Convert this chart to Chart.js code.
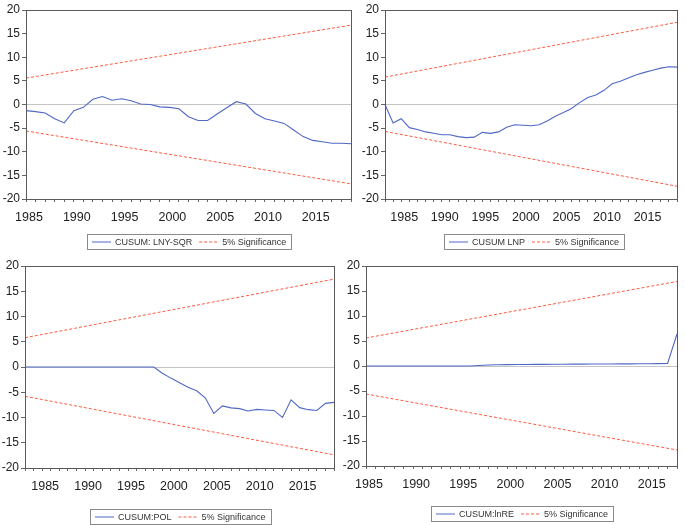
<!DOCTYPE html>
<html>
<head>
<meta charset="utf-8">
<script src="https://cdn.jsdelivr.net/npm/chart.js@4.4.0/dist/chart.umd.min.js"></script>
<style>
  html, body { margin: 0; padding: 0; background: #fff; }
  #wrap { position: relative; width: 685px; height: 525px; overflow: hidden; }
  #wrap canvas { position: absolute; left: 0; top: 0; }
</style>
</head>
<body>
<div id="wrap">
  <canvas id="c1" width="685" height="525"></canvas>
  <canvas id="c2" width="685" height="525"></canvas>
  <canvas id="c3" width="685" height="525"></canvas>
  <canvas id="c4" width="685" height="525"></canvas>
</div>
<script>
// years on the x axis
const years83to19 = [1983, 1984, 1985, 1986, 1987, 1988, 1989, 1990, 1991, 1992,
  1993, 1994, 1995, 1996, 1997, 1998, 1999, 2000, 2001, 2002, 2003, 2004, 2005,
  2006, 2007, 2008, 2009, 2010, 2011, 2012, 2013, 2014, 2015, 2016, 2017, 2018, 2019];
const years85to19 = years83to19.slice(2);
const years85to18 = years85to19.slice(0, -1);

// CUSUM series
const cusumLnySqr = [-1.3, -1.5, -1.8, -3.0, -3.9, -1.3, -0.6, 1.1, 1.7, 0.9,
  1.2, 0.8, 0.1, 0.0, -0.5, -0.6, -0.9, -2.6, -3.4, -3.4, -2.0, -0.7, 0.6, 0.1,
  -1.9, -3.0, -3.5, -4.0, -5.4, -6.8, -7.6, -7.9, -8.2, -8.2, -8.3];
const cusumLnp = [0.0, -3.9, -3.0, -4.9, -5.3, -5.8, -6.1, -6.4, -6.4, -6.8,
  -7.0, -6.9, -5.9, -6.1, -5.8, -4.8, -4.3, -4.4, -4.5, -4.3, -3.5, -2.5, -1.7,
  -0.85, 0.4, 1.5, 2.0, 3.0, 4.4, 4.9, 5.6, 6.3, 6.8, 7.25, 7.7, 8.0, 7.9];
const cusumPol = [0, 0, 0, 0, 0, 0, 0, 0, 0, 0, 0, 0, 0, 0, 0, 0,
  -1.25, -2.2, -3.1, -4.0, -4.7, -6.1, -9.2, -7.7, -8.1, -8.25, -8.7, -8.4, -8.5,
  -8.6, -10.0, -6.5, -8.05, -8.45, -8.6, -7.2, -7.0];
const cusumLnRe = [0, 0, 0, 0, 0, 0, 0, 0, 0, 0, 0, 0, 0.1, 0.2, 0.25, 0.28,
  0.3, 0.3, 0.32, 0.33, 0.35, 0.36, 0.37, 0.38, 0.39, 0.4, 0.41, 0.42, 0.43,
  0.44, 0.45, 0.47, 0.5, 6.4];

// 5% significance bounds at first and last year
const lnySqrUpper = [5.6, 16.8];
const lnySqrLower = [-5.6, -16.8];
const lnpUpper = [5.8, 17.4];
const lnpLower = [-5.7, -17.3];
const polUpper = [5.8, 17.4];
const polLower = [-5.8, -17.4];
const lnReUpper = [5.6, 16.9];
const lnReLower = [-5.6, -16.8];

const yTicks = [-20, -15, -10, -5, 0, 5, 10, 15, 20];

const BLUE = '#5068c6';
const RED = '#ff5a3c';
const FONT = '"Liberation Sans", Arial, sans-serif';

// frame round the plot and a boxed legend under it
const cusumFrame = {
  id: 'cusumFrame',
  afterDraw(chart, args, opts) {
    const { ctx, chartArea: a } = chart;
    ctx.save();
    ctx.strokeStyle = '#5a5a5a';
    ctx.lineWidth = 1;
    ctx.setLineDash([]);
    ctx.strokeRect(Math.round(a.left) + 0.5, Math.round(a.top) + 0.5,
      Math.round(a.right - a.left), Math.round(a.bottom - a.top));

    // legend items, one per label
    const seen = {};
    const items = [];
    chart.data.datasets.forEach(ds => {
      if (seen[ds.label]) return;
      seen[ds.label] = true;
      items.push(ds);
    });
    ctx.font = '9px ' + FONT;
    const sample = 19, gap = 4, itemGap = 7, pad = 5;
    let total = pad * 2 + itemGap * (items.length - 1);
    items.forEach(it => { total += sample + gap + ctx.measureText(it.label).width; });
    const [cx, cy] = opts.center;
    const h = 15;
    const x0 = Math.round(cx - total / 2);
    const y0 = Math.round(cy - h / 2);
    ctx.strokeStyle = '#8a8a8a';
    ctx.strokeRect(x0 + 0.5, y0 + 0.5, Math.round(total), h);
    let x = x0 + pad;
    ctx.textBaseline = 'middle';
    items.forEach(it => {
      ctx.strokeStyle = it.borderColor;
      ctx.lineWidth = 1;
      ctx.setLineDash(it.borderDash || []);
      ctx.beginPath();
      ctx.moveTo(x, y0 + h / 2 + 0.5);
      ctx.lineTo(x + sample, y0 + h / 2 + 0.5);
      ctx.stroke();
      ctx.setLineDash([]);
      x += sample + gap;
      ctx.fillStyle = '#333';
      ctx.fillText(it.label, x, y0 + h / 2 + 1);
      x += ctx.measureText(it.label).width + itemGap;
    });
    ctx.restore();
  }
};

function pairs(xs, ys) {
  return xs.map((x, i) => ({ x: x, y: ys[i] }));
}

function makePanel(id, label, years, values, upper, lower, area, legendCenter) {
  const W = 685, H = 525, YW = 27, XH = 30;
  const ends = [years[0], years[years.length - 1]];
  new Chart(document.getElementById(id), {
    type: 'line',
    data: {
      datasets: [
        {
          label: label,
          data: pairs(years, values),
          borderColor: BLUE,
          borderWidth: 1.1,
          pointRadius: 0,
          tension: 0
        },
        {
          label: '5% Significance',
          data: pairs(ends, upper),
          borderColor: RED,
          borderWidth: 1,
          borderDash: [3, 2],
          pointRadius: 0
        },
        {
          label: '5% Significance',
          data: pairs(ends, lower),
          borderColor: RED,
          borderWidth: 1,
          borderDash: [3, 2],
          pointRadius: 0
        }
      ]
    },
    options: {
      responsive: false,
      animation: false,
      clip: false,
      layout: {
        padding: {
          left: area.l - YW,
          top: area.t,
          right: W - area.r,
          bottom: H - area.b - XH
        }
      },
      plugins: {
        legend: { display: false },
        tooltip: { enabled: false },
        cusumFrame: { center: legendCenter }
      },
      scales: {
        x: {
          type: 'linear',
          min: ends[0],
          max: ends[1],
          afterFit: s => { s.height = XH; },
          border: { display: false },
          grid: { drawOnChartArea: false, tickLength: 3, tickColor: '#666' },
          ticks: {
            stepSize: 1,
            autoSkip: false,
            maxRotation: 0,
            padding: 8,
            labelOffset: 3,
            color: '#222',
            font: { family: FONT, size: 12.5 },
            callback: v => (v % 5 === 0 ? String(v) : '')
          }
        },
        y: {
          min: yTicks[0],
          max: yTicks[yTicks.length - 1],
          afterFit: s => { s.width = YW; },
          afterBuildTicks: s => { s.ticks = yTicks.map(v => ({ value: v })); },
          border: { display: false },
          grid: {
            color: c => (c.tick && c.tick.value === 0 ? '#c4c4c4' : 'rgba(0,0,0,0)'),
            tickColor: '#666',
            tickLength: 4
          },
          ticks: {
            padding: 2,
            color: '#222',
            font: { family: FONT, size: 12 }
          }
        }
      }
    },
    plugins: [cusumFrame]
  });
}

makePanel('c1', 'CUSUM: LNY-SQR', years85to19, cusumLnySqr, lnySqrUpper, lnySqrLower,
  { l: 26, t: 10, r: 351, b: 199 }, [189, 241.5]);
makePanel('c2', 'CUSUM LNP', years83to19, cusumLnp, lnpUpper, lnpLower,
  { l: 385, t: 10, r: 684, b: 199 }, [534, 241]);
makePanel('c3', 'CUSUM:POL', years83to19, cusumPol, polUpper, polLower,
  { l: 25, t: 266, r: 334, b: 468 }, [180, 516.5]);
makePanel('c4', 'CUSUM:lnRE', years85to18, cusumLnRe, lnReUpper, lnReLower,
  { l: 366, t: 266, r: 684, b: 466 }, [522, 513.5]);
</script>
</body>
</html>
